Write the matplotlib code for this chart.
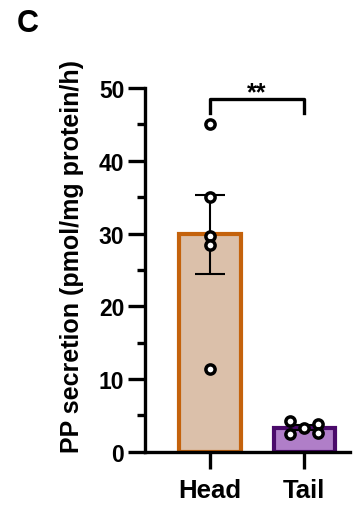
import numpy as np
import matplotlib
matplotlib.use('Agg')
import matplotlib.pyplot as plt
from matplotlib.ticker import MultipleLocator

plt.rcParams['font.family'] = ['Liberation Sans', 'DejaVu Sans']
plt.rcParams['font.weight'] = 'bold'

# dados
grupos = ['Head', 'Tail']
head_pts = [45.0, 35.0, 29.7, 28.4, 11.4]
tail_pts = [4.3, 3.3, 3.8, 2.5, 2.6]
tail_jitter = [-0.15, 0.0, 0.15, -0.15, 0.15]
medias = [29.9, 3.3]
erros = [5.4, 0.35]

cor_fill = ['#dbc0aa', '#b07ec8']
cor_borda = ['#c4620c', '#4a0a6a']

fig = plt.figure(figsize=(3.61, 5.06), dpi=100)
ax = fig.add_axes([0.402, 0.105, 0.568, 0.719])

x = np.arange(len(grupos))
ax.bar(x, medias, width=0.65, color=cor_fill, edgecolor=cor_borda, linewidth=3, zorder=2)
ax.errorbar(x, medias, yerr=erros, fmt='none', ecolor='black', elinewidth=1.5,
            capsize=11, capthick=1.5, zorder=3)

ax.scatter([0] * len(head_pts), head_pts, s=44, facecolor='white', edgecolor='black',
           linewidth=2.5, zorder=4, clip_on=False)
ax.scatter(np.array(tail_jitter) + 1, tail_pts, s=44, facecolor='white', edgecolor='black',
           linewidth=2.5, zorder=4, clip_on=False)

# barra de significancia
yb, yt = 46.6, 48.5
ax.plot([0, 0, 1, 1], [yb, yt, yt, yb], color='black', lw=2.4, clip_on=False)
ax.text(0.5, yt - 0.7, '**', ha='center', va='bottom', fontsize=18, fontweight='bold')

ax.set_xlim(-0.69, 1.49)
ax.set_ylim(0, 50)
ax.yaxis.set_major_locator(MultipleLocator(10))
ax.yaxis.set_minor_locator(MultipleLocator(5))
ax.set_xticks(x)
ax.set_xticklabels(grupos, fontsize=18.5, fontweight='bold')
ax.tick_params(axis='y', which='major', length=12, width=2.4, labelsize=16.5, pad=3)
ax.tick_params(axis='y', which='minor', length=6, width=2.4)
ax.tick_params(axis='x', length=12, width=2.4, pad=7)

for lado in ['top', 'right']:
    ax.spines[lado].set_visible(False)
ax.spines['left'].set_linewidth(2.4)
ax.spines['bottom'].set_linewidth(2.4)

ax.set_ylabel('PP secretion (pmol/mg protein/h)', fontsize=18, fontweight='bold')
ax.yaxis.set_label_coords(-0.30, 0.54)

fig.text(0.078, 0.952, 'C', fontsize=22, fontweight='bold', ha='center', va='center')

fig.savefig('out.png', dpi=100)
